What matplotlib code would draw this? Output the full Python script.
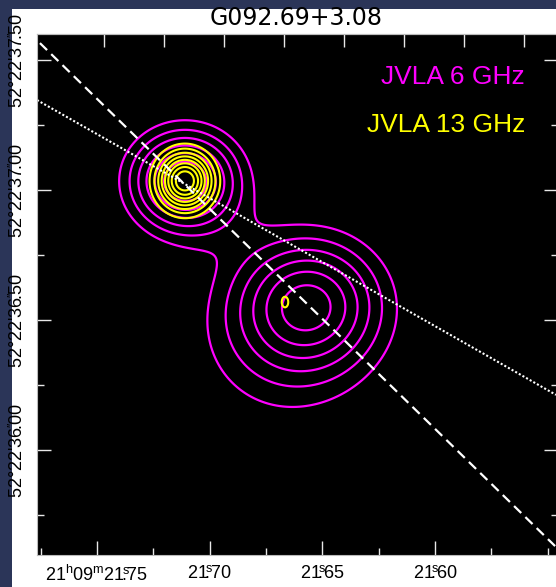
import numpy as np
import matplotlib.pyplot as plt
from matplotlib.patches import Rectangle
from matplotlib.ticker import FixedLocator, MultipleLocator, NullFormatter

plt.rcParams['font.family'] = ['Liberation Sans', 'DejaVu Sans']
plt.rcParams['mathtext.fontset'] = 'custom'
plt.rcParams['mathtext.rm'] = 'Liberation Sans'
plt.rcParams['mathtext.it'] = 'Liberation Sans:italic'

# RA in seconds after 21h09m, Dec in arcsec after 52d22m
# JVLA 6 GHz gaussian components: peak (mJy/beam), sigma (arcsec)
c6_ra = [21.7110, 21.6555, 21.6680]
c6_dec = [37.035, 36.569, 36.390]
c6_peak = [0.40, 0.30, 0.11]
c6_sx = [0.160, 0.210, 0.300]
c6_sy = [0.140, 0.180, 0.270]
lev6 = [0.10, 0.15, 0.20, 0.25, 0.30, 0.35]

# JVLA 13 GHz components
c13_ra = [21.7110, 21.6666]
c13_dec = [37.035, 36.569]
c13_peak = [0.50, 0.125]
c13_sx = [0.080, 0.020]
c13_sy = [0.080, 0.031]
lev13 = [0.10, 0.15, 0.20, 0.25, 0.30, 0.35, 0.40, 0.45]

# the two lines through the source (RA s, Dec arcsec end points)
dash_ra = [21.7753, 21.5464]
dash_dec = [37.565, 35.627]
dot_ra = [21.7766, 21.5464]
dot_dec = [37.346, 36.212]

xtick_vals = [21.75, 21.70, 21.65, 21.60]
xtick_labels = [r'21$^{\rm h}$09$^{\rm m}$21$\!\overset{\rm s}{.}\!$75',
                r'21$\!\overset{\rm s}{.}\!$70', r'21$\!\overset{\rm s}{.}\!$65',
                r'21$\!\overset{\rm s}{.}\!$60']
ytick_vals = [37.5, 37.0, 36.5, 36.0]
ytick_labels = [r"52°22'37$\!\overset{\prime\prime}{.}\!$50",
                r"52°22'37$\!\overset{\prime\prime}{.}\!$00",
                r"52°22'36$\!\overset{\prime\prime}{.}\!$50",
                r"52°22'36$\!\overset{\prime\prime}{.}\!$00"]
top_ticks = [21.7469, 21.7203, 21.6937, 21.6671, 21.6405, 21.6139, 21.5873, 21.5606]

title = 'G092.69+3.08'

cosd = np.cos(np.radians(52 + 22 / 60 + 37 / 3600))


def field(ras, decs, peaks, sxs, sys_, RA, DEC):
    f = np.zeros_like(RA)
    for r, d, p, sx, sy in zip(ras, decs, peaks, sxs, sys_):
        dx = (RA - r) * 15 * cosd
        dy = DEC - d
        f += p * np.exp(-0.5 * ((dx / sx) ** 2 + (dy / sy) ** 2))
    return f


ra_g = np.linspace(21.80, 21.52, 500)
dec_g = np.linspace(35.55, 37.65, 500)
RA, DEC = np.meshgrid(ra_g, dec_g)
f6 = field(c6_ra, c6_dec, c6_peak, c6_sx, c6_sy, RA, DEC)
f13 = field(c13_ra, c13_dec, c13_peak, c13_sx, c13_sy, RA, DEC)

fig = plt.figure(figsize=(5.56, 5.87), dpi=100, facecolor='#2b3558')
fig.add_artist(Rectangle((12 / 556, 0), 1, 1 - 9 / 587, transform=fig.transFigure,
                         facecolor='white', edgecolor='none', zorder=0))

ax = fig.add_axes([37 / 556, 32 / 587, 521 / 556, 521 / 587])
ax.set_facecolor('black')

ax.contour(RA, DEC, f6, levels=lev6, colors='#ff00ff', linewidths=1.6)
ax.contour(RA, DEC, f13, levels=lev13, colors='#ffff00', linewidths=1.5)

ax.plot(dash_ra, dash_dec, color='white', lw=1.6, dashes=(4.5, 2.6))
ax.plot(dot_ra, dot_dec, color='white', lw=1.5, dashes=(1, 1))

ax.set_xlim(21.7766, 21.5455)
ax.set_ylim(35.596, 37.600)

ax.xaxis.set_major_locator(FixedLocator(xtick_vals))
ax.set_xticklabels(xtick_labels)
ax.xaxis.set_minor_locator(MultipleLocator(0.025))
ax.yaxis.set_major_locator(FixedLocator(ytick_vals))
ax.set_yticklabels(ytick_labels, rotation=90, va='center')
ax.yaxis.set_minor_locator(MultipleLocator(0.25))

ax.tick_params(which='both', direction='in', colors='#e8e8e8', labelcolor='black',
               top=False, right=True, width=1)
ax.tick_params(which='major', length=10, labelsize=13)
ax.tick_params(which='minor', length=5)
ax.tick_params(axis='x', pad=7)
ax.tick_params(axis='y', pad=7)

sec = ax.secondary_xaxis('top')
sec.xaxis.set_major_locator(FixedLocator(top_ticks))
sec.xaxis.set_major_formatter(NullFormatter())
sec.tick_params(direction='in', length=9, colors='#e8e8e8', width=1)

for s in ax.spines.values():
    s.set_color('#bbbbbb')
for s in sec.spines.values():
    s.set_color('#bbbbbb')

ax.text(0.937, 0.917, 'JVLA 6 GHz', color='#ff00ff', fontsize=19,
        ha='right', va='center', transform=ax.transAxes)
ax.text(0.937, 0.825, 'JVLA 13 GHz', color='#ffff00', fontsize=19,
        ha='right', va='center', transform=ax.transAxes)

fig.text(296 / 556, 1 - 18 / 587, title, ha='center', va='center',
         fontsize=17, family='DejaVu Sans')

fig.savefig('out.png', dpi=100, facecolor=fig.get_facecolor())
